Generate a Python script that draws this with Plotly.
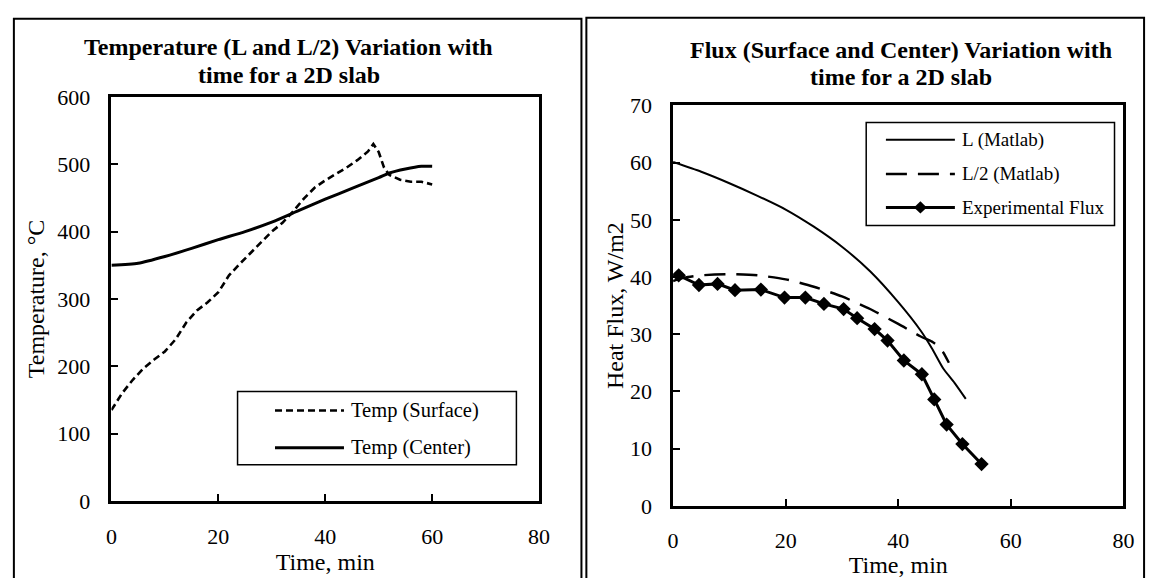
import plotly.graph_objects as go

# ---------------- data ----------------
t_surface = [0, 2, 4, 6, 8, 10, 12, 14, 16, 18, 20, 22, 24, 26, 28, 30, 32, 34, 36, 38, 40,
             42, 44, 46, 48, 49, 50, 51, 52, 54, 56, 58, 60]
T_surface = [135, 160, 180, 197, 210, 222, 240, 265, 283, 295, 310, 335, 352, 368, 385, 400,
             413, 430, 449, 465, 476, 485, 495, 506, 519, 530, 518, 495, 484, 477, 474, 474, 470]

t_center = [0, 5, 10, 15, 20, 25, 30, 35, 40, 45, 50, 52, 55, 58, 60]
T_center = [350, 353, 363, 375, 388, 400, 414, 431, 448, 464, 480, 487, 493, 497, 497]

t_L = [0, 5, 10, 15, 20, 25, 30, 35, 40, 44, 46, 48, 50, 52]
F_L = [60.1, 58.4, 56.4, 54.2, 51.8, 48.8, 45.3, 41.0, 35.6, 30.6, 27.5, 24.0, 21.5, 18.7]

t_L2 = [0, 2, 5, 10, 15, 20, 25, 30, 35, 40, 44, 46, 47, 48, 49]
F_L2 = [39.3, 39.9, 40.3, 40.5, 40.3, 39.6, 38.3, 36.6, 34.4, 31.8, 29.6, 28.7, 28.0, 26.8, 25.0]

t_exp = [1.0, 4.6, 7.9, 11.0, 15.6, 19.8, 23.5, 26.8, 30.3, 32.7, 35.8, 38.1, 41.0, 44.2,
         46.4, 48.6, 51.4, 54.8]
F_exp = [40.3, 38.6, 38.8, 37.7, 37.8, 36.4, 36.4, 35.3, 34.4, 32.8, 30.9, 28.9, 25.4, 23.0,
         18.6, 14.2, 10.8, 7.3]

x_ticks = [0, 20, 40, 60, 80]
temp_ticks = [0, 100, 200, 300, 400, 500, 600]
flux_ticks = [0, 10, 20, 30, 40, 50, 60, 70]

left_title = ["Temperature (L and L/2) Variation with", "time for a 2D slab"]
right_title = ["Flux (Surface and Center) Variation with", "time for a 2D slab"]
left_legend = ["Temp (Surface)", "Temp (Center)"]
right_legend = ["L (Matlab)", "L/2 (Matlab)", "Experimental Flux"]

# ---------------- layout helpers ----------------
FONT = "Liberation Serif, 'Times New Roman', Times, serif"
W, H = 1160, 578


def fx(x):
    return x / W


def fy(y):
    return 1 - y / H


fig = go.Figure()

fig.add_trace(go.Scatter(x=t_surface, y=T_surface, mode="lines", name=left_legend[0],
                         line=dict(color="black", width=2.6, dash="7px,4px"),
                         xaxis="x", yaxis="y", showlegend=False))
fig.add_trace(go.Scatter(x=t_center, y=T_center, mode="lines", name=left_legend[1],
                         line=dict(color="black", width=3, shape="spline", smoothing=0.6),
                         xaxis="x", yaxis="y", showlegend=False))

fig.add_trace(go.Scatter(x=t_L, y=F_L, mode="lines", name=right_legend[0],
                         line=dict(color="black", width=2, shape="spline", smoothing=0.6),
                         xaxis="x2", yaxis="y2", showlegend=False))
fig.add_trace(go.Scatter(x=t_L2, y=F_L2, mode="lines", name=right_legend[1],
                         line=dict(color="black", width=2.4, dash="21px,11px", shape="spline",
                                   smoothing=0.6),
                         xaxis="x2", yaxis="y2", showlegend=False))
fig.add_trace(go.Scatter(x=t_exp, y=F_exp, mode="lines+markers", name=right_legend[2],
                         line=dict(color="black", width=3),
                         marker=dict(symbol="diamond", size=11, color="black"),
                         xaxis="x2", yaxis="y2", showlegend=False))

tickfont = dict(family=FONT, size=22, color="black")
titlefont = dict(family=FONT, size=24, color="black")

common = dict(ticks="inside", ticklen=7, tickwidth=2, tickcolor="black", showline=True,
              linecolor="black", linewidth=2.5, mirror=True, showgrid=False, zeroline=False,
              tickfont=tickfont)

fig.update_layout(
    width=W, height=H, margin=dict(l=0, r=0, t=0, b=0),
    paper_bgcolor="white", plot_bgcolor="white",
    xaxis=dict(domain=[fx(107), fx(541)], range=[0, 80], tickvals=x_ticks, anchor="y",
               ticklabelstandoff=14,
               title=dict(text="Time, min", font=titlefont, standoff=5), **common),
    yaxis=dict(domain=[fy(513), fy(89)], range=[0, 600], tickvals=temp_ticks, anchor="x",
               ticklabelstandoff=14,
               title=dict(text="Temperature, °C", font=titlefont, standoff=6), **common),
    xaxis2=dict(domain=[fx(677), fx(1134)], range=[0, 80], tickvals=x_ticks, anchor="y2",
                ticklabelstandoff=13,
                title=dict(text="Time, min", font=titlefont, standoff=8), **common),
    yaxis2=dict(domain=[fy(518), fy(98)], range=[0, 70], tickvals=flux_ticks, anchor="x2",
                ticklabelstandoff=14,
                title=dict(text="Heat Flux, W/m2", font=titlefont, standoff=0), **common),
)

shapes = []
annotations = []

# outer chart borders
shapes.append(dict(type="rect", xref="paper", yref="paper", x0=fx(8), x1=fx(584),
                   y0=fy(600), y1=fy(7), line=dict(color="black", width=2)))
shapes.append(dict(type="rect", xref="paper", yref="paper", x0=fx(589), x1=fx(1155),
                   y0=fy(600), y1=fy(6), line=dict(color="black", width=2)))

# titles
for txt, yy in zip(left_title, [37, 66]):
    annotations.append(dict(text="<b>" + txt + "</b>", x=fx(287), y=fy(yy), xref="paper",
                            yref="paper", showarrow=False, xanchor="center", yanchor="middle",
                            font=dict(family=FONT, size=24, color="black")))
for txt, yy in zip(right_title, [40, 68]):
    annotations.append(dict(text="<b>" + txt + "</b>", x=fx(908), y=fy(yy), xref="paper",
                            yref="paper", showarrow=False, xanchor="center", yanchor="middle",
                            font=dict(family=FONT, size=24, color="black")))

# left legend
shapes.append(dict(type="rect", xref="paper", yref="paper", x0=fx(235), x1=fx(518),
                   y0=fy(475), y1=fy(398), line=dict(color="black", width=1.5),
                   fillcolor="white", layer="above"))
leg_styles_left = [dict(color="black", width=2.6, dash="7px,4px"),
                   dict(color="black", width=3)]
for txt, yy, ls in zip(left_legend, [418, 457], leg_styles_left):
    shapes.append(dict(type="line", xref="paper", yref="paper", x0=fx(273), x1=fx(343),
                       y0=fy(yy), y1=fy(yy), line=ls, layer="above"))
    annotations.append(dict(text=txt, x=fx(348), y=fy(yy), xref="paper", yref="paper",
                            showarrow=False, xanchor="left", yanchor="middle",
                            font=dict(family=FONT, size=20.5, color="black")))

# right legend
shapes.append(dict(type="rect", xref="paper", yref="paper", x0=fx(873), x1=fx(1125),
                   y0=fy(224), y1=fy(116), line=dict(color="black", width=1.5),
                   fillcolor="white", layer="above"))
leg_styles_right = [dict(color="black", width=2),
                    dict(color="black", width=2.4, dash="21px,11px"),
                    dict(color="black", width=3)]
for txt, yy, ls in zip(right_legend, [134, 170, 205], leg_styles_right):
    shapes.append(dict(type="line", xref="paper", yref="paper", x0=fx(893), x1=fx(963),
                       y0=fy(yy), y1=fy(yy), line=ls, layer="above"))
    annotations.append(dict(text=txt, x=fx(968), y=fy(yy), xref="paper", yref="paper",
                            showarrow=False, xanchor="left", yanchor="middle",
                            font=dict(family=FONT, size=19, color="black")))
# diamond marker in legend sample
cx, cy, r = 928, 205, 6.5
shapes.append(dict(type="path", xref="paper", yref="paper",
                   path=f"M {fx(cx - r)} {fy(cy)} L {fx(cx)} {fy(cy - r)} L {fx(cx + r)} {fy(cy)} "
                        f"L {fx(cx)} {fy(cy + r)} Z",
                   fillcolor="black", line=dict(color="black", width=0), layer="above"))

fig.update_layout(shapes=shapes, annotations=annotations)

fig.write_html("out.html")
